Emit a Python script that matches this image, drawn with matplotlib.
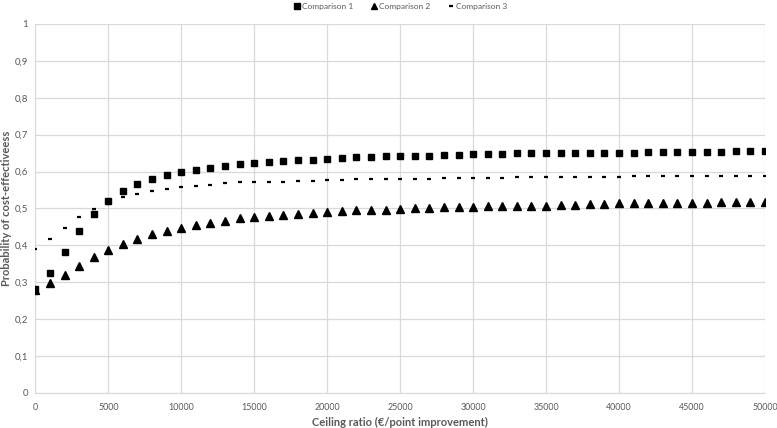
import matplotlib

matplotlib.use("Agg")
import matplotlib.pyplot as plt
from matplotlib.ticker import FuncFormatter, MultipleLocator

# ceiling ratio, € per point improvement
ceiling = [i * 1000 for i in range(51)]

comparison_1 = [
    0.282, 0.325, 0.381, 0.438, 0.486, 0.521, 0.547, 0.565, 0.579, 0.590,
    0.599, 0.605, 0.611, 0.616, 0.620, 0.623, 0.626, 0.629, 0.631, 0.632,
    0.634, 0.637, 0.639, 0.640, 0.641, 0.641, 0.643, 0.643, 0.645, 0.645,
    0.647, 0.647, 0.647, 0.649, 0.649, 0.649, 0.649, 0.650, 0.651, 0.651,
    0.651, 0.651, 0.652, 0.653, 0.653, 0.653, 0.653, 0.653, 0.655, 0.655,
    0.655,
]
comparison_2 = [
    0.280, 0.297, 0.320, 0.344, 0.368, 0.387, 0.404, 0.418, 0.430, 0.440,
    0.447, 0.456, 0.462, 0.467, 0.473, 0.477, 0.479, 0.483, 0.485, 0.488,
    0.491, 0.494, 0.495, 0.496, 0.496, 0.499, 0.501, 0.501, 0.503, 0.505,
    0.505, 0.506, 0.507, 0.507, 0.507, 0.508, 0.510, 0.510, 0.511, 0.513,
    0.514, 0.514, 0.514, 0.514, 0.515, 0.516, 0.516, 0.517, 0.517, 0.517,
    0.517,
]
comparison_3 = [
    0.391, 0.416, 0.446, 0.476, 0.499, 0.512, 0.530, 0.540, 0.548, 0.554,
    0.558, 0.562, 0.564, 0.569, 0.571, 0.571, 0.573, 0.573, 0.575, 0.575,
    0.577, 0.577, 0.579, 0.579, 0.581, 0.581, 0.581, 0.581, 0.583, 0.583,
    0.583, 0.583, 0.583, 0.585, 0.585, 0.585, 0.585, 0.585, 0.585, 0.585,
    0.585, 0.587, 0.587, 0.587, 0.587, 0.587, 0.587, 0.587, 0.587, 0.587,
    0.587,
]

GREY = "#595959"
GRID = "#d9d9d9"

plt.rcParams.update({
    "font.family": ["Lato", "DejaVu Sans"],
    "axes.edgecolor": GRID,
})


def comma_decimal(v, _pos):
    # Excel-style labels: 0, 0,1 ... 0,9, 1
    if abs(v) < 1e-9:
        return "0"
    if abs(v - 1) < 1e-9:
        return "1"
    return f"{v:.1f}".replace(".", ",")


fig = plt.figure(figsize=(7.77, 4.28), dpi=100)
ax = fig.add_axes([0.0455, 0.0818, 0.939, 0.8622])

ax.plot(ceiling, comparison_1, linestyle="none", marker="s", markersize=5,
        color="black", label="Comparison 1", zorder=3)
ax.plot(ceiling, comparison_2, linestyle="none", marker="^", markersize=5.5,
        color="black", label="Comparison 2", zorder=3)
ax.plot(ceiling, comparison_3, linestyle="none", marker="_", markersize=3.5,
        markeredgewidth=1.6, color="black", label="Comparison 3", zorder=3)

ax.set_xlim(0, 50000)
ax.set_ylim(0, 1)
ax.xaxis.set_major_locator(MultipleLocator(5000))
ax.yaxis.set_major_locator(MultipleLocator(0.1))
ax.yaxis.set_major_formatter(FuncFormatter(comma_decimal))
ax.grid(True, color=GRID, linewidth=0.9)
ax.set_axisbelow(True)
for side in ("top", "right"):
    ax.spines[side].set_visible(False)
ax.spines["left"].set_color(GRID)
ax.spines["bottom"].set_color(GRID)
ax.tick_params(length=0, labelsize=7, colors=GREY)
ax.tick_params(axis="x", pad=7, labelsize=6.4)
ax.tick_params(axis="y", pad=5)

ax.set_xlabel("Ceiling ratio (€/point improvement)", fontsize=8, fontweight="bold",
              color=GREY, labelpad=4)
ax.set_ylabel("Probability of cost-effectiveess", fontsize=8, fontweight="bold",
              color=GREY, labelpad=2)

leg = fig.legend(loc="upper center", bbox_to_anchor=(0.515, 1.01), ncol=3,
                 frameon=False, fontsize=6, handletextpad=0.1, columnspacing=2.0,
                 handlelength=1.0, markerscale=0.8)
for t in leg.get_texts():
    t.set_color(GREY)

fig.savefig("out.png", dpi=100)
